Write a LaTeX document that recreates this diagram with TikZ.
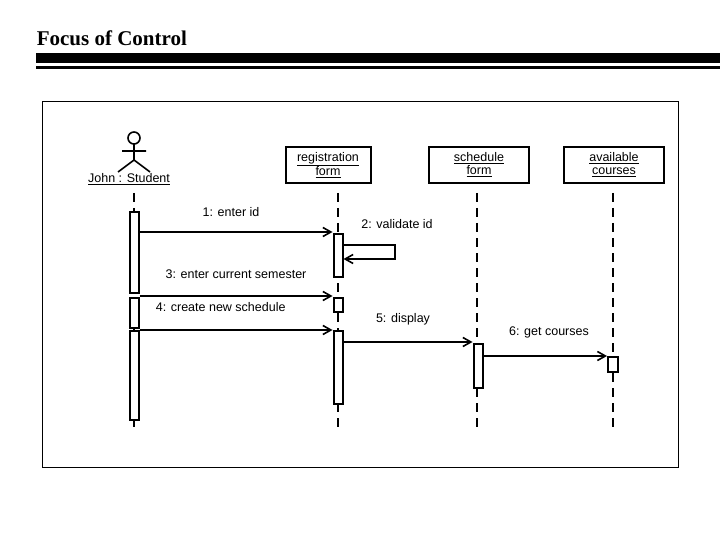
\documentclass[tikz,border=0pt]{standalone}
\usepackage{fontspec}
\setmainfont{Liberation Sans}
\newfontfamily\titlefont{Liberation Serif}
\usetikzlibrary{arrows.meta}
\begin{document}
\begin{tikzpicture}[x=1pt,y=-1pt,line width=1.6pt,
  lbl/.style={font=\fontsize{12.5}{13}\selectfont,inner sep=0pt},
  obj/.style={draw,line width=2pt,minimum width=85pt,minimum height=36pt,align=center,font=\fontsize{12.5}{13}\selectfont,inner sep=1pt},
  life/.style={line width=2pt,dash pattern=on 9pt off 6pt},
  act/.style={draw,line width=2pt,fill=white,minimum width=9pt,anchor=north,inner sep=0pt},
  msg/.style={line width=1.6pt,-{Straight Barb[length=8pt,width=9pt]}}]
\useasboundingbox (0,0) rectangle (720,540);
% title
\node[anchor=west,font=\titlefont\bfseries\fontsize{21}{23}\selectfont,inner sep=0pt] (title) at (36,38) {Focus of Control};
\fill (36,53) rectangle (720,63);
\fill (36,66.5) rectangle (720,69);
% frame
\draw[line width=1pt] (42,102) rectangle (678,467);
% actor
\draw (134,138) circle (6);
\draw (134,144) -- (134,160) (122,151) -- (146,151) (118,172) -- (134,160) -- (150,172);
\node[lbl] (john) at (129,179) {\underline{John : Student}};
% objects
\node[obj] (reg) at (328,165) {\underline{registration}\\\underline{form}};
\node[obj,minimum width=100pt] (sch) at (479,165) {\underline{schedule}\\\underline{form}};
\node[obj,minimum width=100pt] (ava) at (614,165) {\underline{available}\\\underline{courses}};
% lifelines
\draw[life] (134,193) -- (134,432);
\draw[life] (338,193) -- (338,432);
\draw[life] (477,193) -- (477,432);
\draw[life] (613,193) -- (613,432);
% activations
\node[act,minimum height=81pt] (a1) at (134,211) {};
\node[act,minimum height=30pt] (a2) at (134,297) {};
\node[act,minimum height=89pt] (a3) at (134,330) {};
\node[act,minimum height=43pt] (r1) at (338,233) {};
\node[act,minimum height=14pt] (r2) at (338,297) {};
\node[act,minimum height=73pt] (r3) at (338,330) {};
\node[act,minimum height=44pt] (s1) at (478,343) {};
\node[act,minimum width=10pt,minimum height=15pt] (v1) at (613,356) {};
% messages
\draw[msg] (a1.east |- 0,232) -- (r1.west |- 0,232);
\coordinate (self) at (395,245);
\draw[msg] (r1.east |- self) -- (self) -- (self |- 0,259) -- (r1.east |- 0,259);
\draw[msg] (a2.east |- 0,296) -- (r2.west |- 0,296);
\draw[msg] (a3.east |- 0,330) -- (r3.west |- 0,330);
\draw[msg] (r3.east |- 0,342) -- (s1.west |- 0,342);
\draw[msg] (s1.east |- 0,356) -- (v1.west |- 0,356);
% labels
\node[lbl] (m1) at (231,212) {1: enter id};
\node[lbl] (m2) at (397,224) {2: validate id};
\node[lbl] (m3) at (236,274) {3: enter current semester};
\node[lbl,anchor=west] (m4) at (155,307) {4: create new schedule};
\node[lbl] (m5) at (403,319) {5: display};
\node[lbl] (m6) at (549,332) {6: get courses};
\end{tikzpicture}
\end{document}
